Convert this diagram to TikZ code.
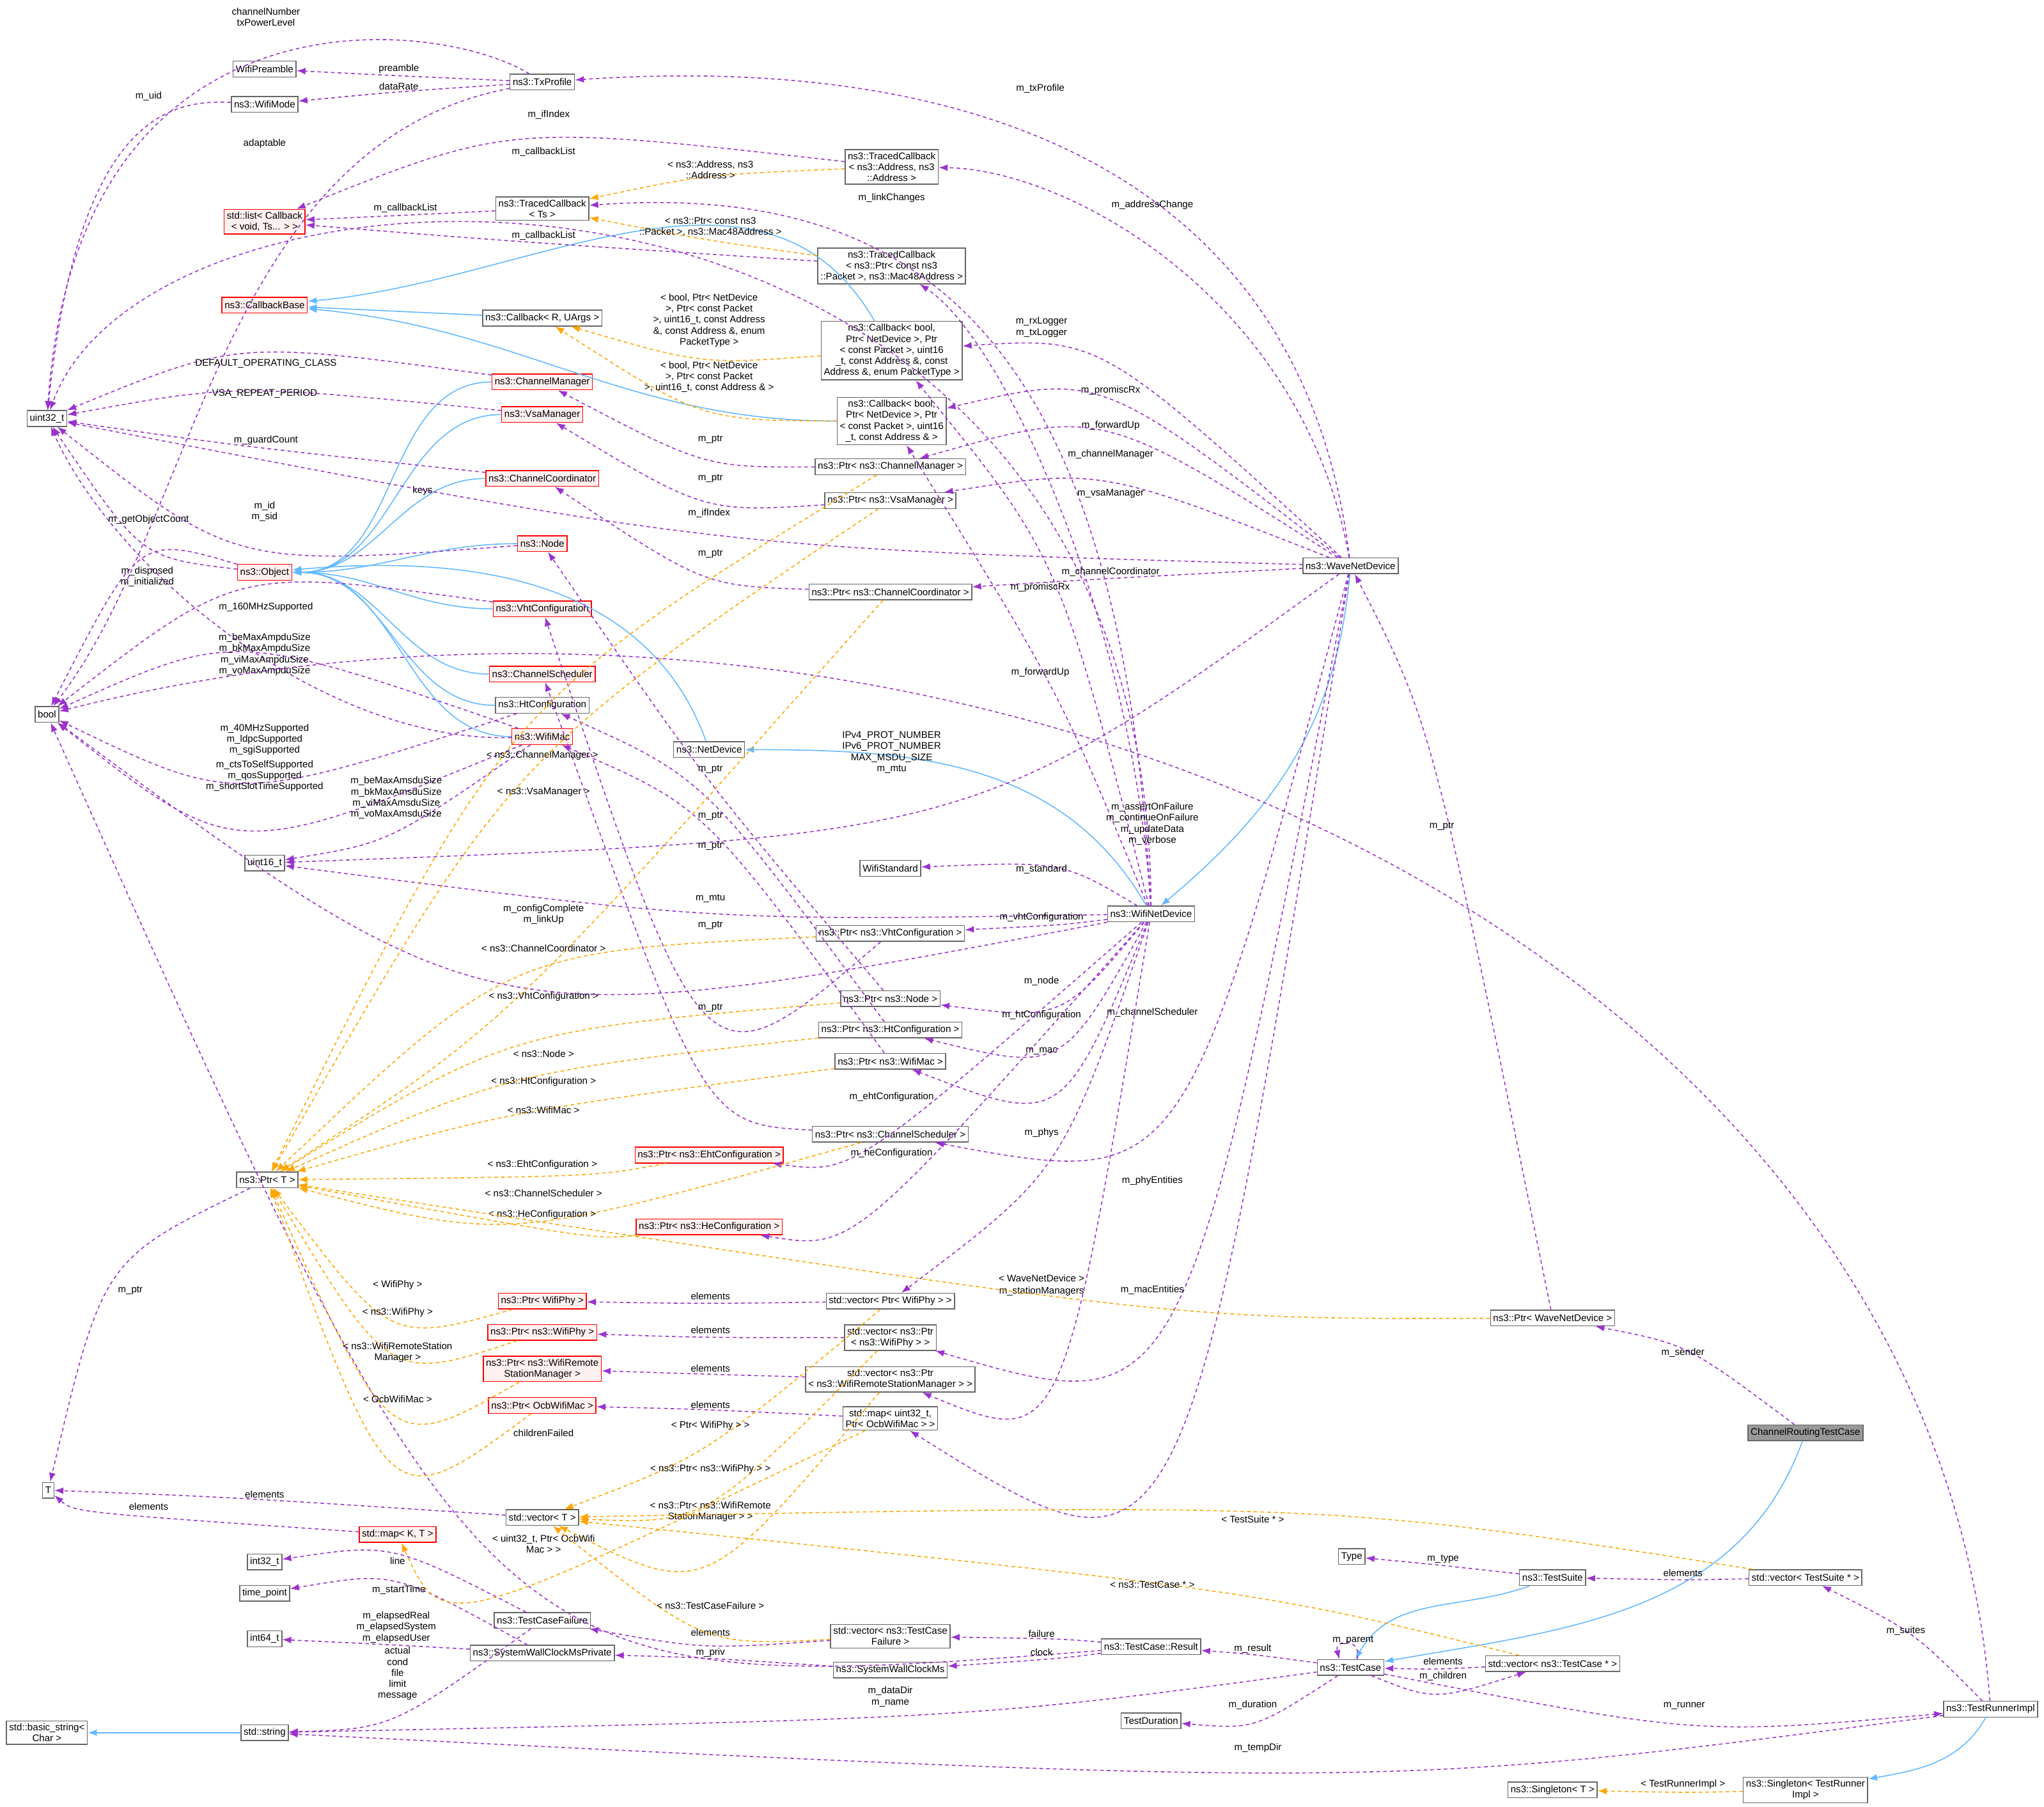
\documentclass[tikz,border=0pt]{standalone}
\usepackage{fontspec}
\setmainfont{Liberation Sans}
\usetikzlibrary{arrows.meta,calc}
\definecolor{memc}{HTML}{9A32CD}
\definecolor{inhc}{HTML}{63B8FF}
\definecolor{tplc}{HTML}{FFA500}
\tikzset{
  box/.style={draw=black!60, fill=white, font=\fontsize{4.3}{4.9}\selectfont, align=center, inner sep=1.2pt, minimum height=7pt, line width=0.4pt},
  redbox/.style={box, draw=red, fill=red!6},
  grbox/.style={box, fill=black!40},
  lbl/.style={font=\fontsize{4.3}{4.9}\selectfont, align=center, inner sep=0.3pt},
  mem/.style={draw=memc, line width=0.45pt, dash pattern=on 1.6pt off 1.4pt, -{Latex[length=4pt,width=3pt]}},
  inh/.style={draw=inhc, line width=0.45pt, -{Latex[length=4pt,width=3pt]}},
  tpl/.style={draw=tplc, line width=0.45pt, dash pattern=on 1.6pt off 1.4pt, -{Latex[length=4pt,width=3pt]}},
}
% curve from #2 to #3 passing just under the label at #4
\newcommand{\mlink}[5]{\draw[#1] (#2) .. controls ($2*(#4)+(0,10)-0.5*(#2)-0.5*(#3)$) .. (#3) node[lbl,anchor=south] at ($(#4)+(0,4)$) {#5};}
% same, with two given control points; label centred at #6
\newcommand{\clink}[7]{\draw[#1] (#2) .. controls (#4) and (#5) .. (#3) node[lbl] at (#6) {#7};}
\begin{document}
\begin{tikzpicture}[x=0.2039mm, y=-0.2039mm]
\useasboundingbox (0,0) rectangle (1568,1386);
% classes
\node[box] (u32) at (36,321) {uint32\_t};
\node[box] (bool) at (36,548) {bool};
\node[box] (u16) at (203,662) {uint16\_t};
\node[box] (T) at (37,1143) {T};
\node[box] (wpre) at (203,53) {WifiPreamble};
\node[box] (wmode) at (203,80) {ns3::WifiMode};
\node[box] (txp) at (416,63) {ns3::TxProfile};
\node[redbox] (slist) at (203,170) {std::list< Callback\\< void, Ts... > >};
\node[box] (tcts) at (416,160) {ns3::TracedCallback\\< Ts >};
\node[box] (tcaddr) at (684,128) {ns3::TracedCallback\\< ns3::Address, ns3\\::Address >};
\node[box] (tcpkt) at (684,204) {ns3::TracedCallback\\< ns3::Ptr< const ns3\\::Packet >, ns3::Mac48Address >};
\node[redbox] (cbb) at (203,234) {ns3::CallbackBase};
\node[box] (cbr) at (416,244) {ns3::Callback< R, UArgs >};
\node[box] (cbpt) at (684,269) {ns3::Callback< bool,\\ Ptr< NetDevice >, Ptr\\< const Packet >, uint16\\\_t, const Address \&, const\\ Address \&, enum PacketType >};
\node[box] (cbad) at (684,323) {ns3::Callback< bool,\\ Ptr< NetDevice >, Ptr\\< const Packet >, uint16\\\_t, const Address \& >};
\node[redbox] (cm) at (416,293) {ns3::ChannelManager};
\node[redbox] (vsa) at (416,318) {ns3::VsaManager};
\node[redbox] (cc) at (416,367) {ns3::ChannelCoordinator};
\node[redbox] (node) at (416,417) {ns3::Node};
\node[redbox] (obj) at (203,439) {ns3::Object};
\node[redbox] (vht) at (416,467) {ns3::VhtConfiguration};
\node[redbox] (cs) at (416,517) {ns3::ChannelScheduler};
\node[box] (htc) at (416,541) {ns3::HtConfiguration};
\node[redbox] (wmac) at (416,565) {ns3::WifiMac};
\node[box] (netdev) at (544,575) {ns3::NetDevice};
\node[box] (pcm) at (683,358) {ns3::Ptr< ns3::ChannelManager >};
\node[box] (pvsa) at (683,384) {ns3::Ptr< ns3::VsaManager >};
\node[box] (pcc) at (683,454) {ns3::Ptr< ns3::ChannelCoordinator >};
\node[box] (wave) at (1036,434) {ns3::WaveNetDevice};
\node[box] (wstd) at (683,666) {WifiStandard};
\node[box] (wifind) at (883,701) {ns3::WifiNetDevice};
\node[box] (pvht) at (683,716) {ns3::Ptr< ns3::VhtConfiguration >};
\node[box] (pnode) at (683,766) {ns3::Ptr< ns3::Node >};
\node[box] (phtc) at (683,790) {ns3::Ptr< ns3::HtConfiguration >};
\node[box] (pwmac) at (683,814) {ns3::Ptr< ns3::WifiMac >};
\node[box] (pcs) at (683,870) {ns3::Ptr< ns3::ChannelScheduler >};
\node[redbox] (peht) at (544,886) {ns3::Ptr< ns3::EhtConfiguration >};
\node[box] (ptrT) at (205,905) {ns3::Ptr< T >};
\node[redbox] (phe) at (544,941) {ns3::Ptr< ns3::HeConfiguration >};
\node[redbox] (pwp) at (416,998) {ns3::Ptr< WifiPhy >};
\node[redbox] (pnwp) at (416,1022) {ns3::Ptr< ns3::WifiPhy >};
\node[redbox] (psm) at (416,1050) {ns3::Ptr< ns3::WifiRemote\\StationManager >};
\node[redbox] (pocb) at (416,1078) {ns3::Ptr< OcbWifiMac >};
\node[box] (vpwp) at (683,998) {std::vector< Ptr< WifiPhy > >};
\node[box] (vpnwp) at (683,1026) {std::vector< ns3::Ptr\\< ns3::WifiPhy > >};
\node[box] (vsm) at (683,1058) {std::vector< ns3::Ptr\\< ns3::WifiRemoteStationManager > >};
\node[box] (mapocb) at (683,1088) {std::map< uint32\_t,\\ Ptr< OcbWifiMac > >};
\node[box] (pwave) at (1191,1011) {ns3::Ptr< WaveNetDevice >};
\node[grbox] (crtc) at (1385,1099) {ChannelRoutingTestCase};
\node[box] (vecT) at (416,1164) {std::vector< T >};
\node[redbox] (mapKT) at (305,1177) {std::map< K, T >};
\node[box] (i32) at (203,1198) {int32\_t};
\node[box] (tp) at (203,1222) {time\_point};
\node[box] (i64) at (203,1257) {int64\_t};
\node[box] (tcf) at (416,1243) {ns3::TestCaseFailure};
\node[box] (swcp) at (416,1268) {ns3::SystemWallClockMsPrivate};
\node[box] (str) at (203,1329) {std::string};
\node[box] (bstr) at (36,1329) {std::basic\_string<\\ Char >};
\node[box] (vtcf) at (683,1255) {std::vector< ns3::TestCase\\Failure >};
\node[box] (swc) at (683,1281) {ns3::SystemWallClockMs};
\node[box] (result) at (883,1263) {ns3::TestCase::Result};
\node[box] (tc) at (1036,1279) {ns3::TestCase};
\node[box] (tdur) at (883,1320) {TestDuration};
\node[box] (type) at (1037,1194) {Type};
\node[box] (tsuite) at (1191,1210) {ns3::TestSuite};
\node[box] (vts) at (1385,1210) {std::vector< TestSuite * >};
\node[box] (vtc) at (1191,1276) {std::vector< ns3::TestCase * >};
\node[box] (trunner) at (1527,1311) {ns3::TestRunnerImpl};
\node[box] (sglT) at (1191,1373) {ns3::Singleton< T >};
\node[box] (sgltr) at (1385,1373) {ns3::Singleton< TestRunner\\Impl >};
% inheritance
\draw[inh] (cbr) -- (cbb);
\draw[inh] (cbpt) to[out=120,in=5] (cbb);
\draw[inh] (cbad) to[out=180,in=-5] (cbb);
\foreach \n in {cm,vsa,node,vht,cs,htc,wmac}
  \draw[inh] (\n) to[out=180,in=0] (obj);
\draw[inh] (cc) to[out=180,in=0] node[lbl,pos=0.3,above=1pt] {keys} (obj);
\draw[inh] (netdev) to[out=110,in=5] (obj);
\draw[inh] (wifind) to[out=120,in=0] (netdev);
\draw[inh] (wave) to[out=-95,in=40] (wifind);
\draw[inh] (crtc) to[out=-110,in=10] (tc);
\draw[inh] (tsuite) to[out=200,in=60] (tc);
\draw[inh] (trunner) to[out=-120,in=10] (sgltr);
\draw[inh] (str) -- (bstr);
% members
\clink{mem}{txp}{u32}{340,15}{60,-20}{204,13}{channelNumber\\txPowerLevel}
\mlink{mem}{txp}{wpre}{306,53}{preamble}
\mlink{mem}{txp}{wmode}{306,66}{dataRate}
\clink{mem}{wmode}{u32}{130,76}{60,90}{114,74}{m\_uid}
\clink{mem}{txp}{bool}{170,110}{150,400}{203,110}{adaptable}
\clink{mem}{wifind}{u32}{880,70}{120,90}{421,88}{m\_ifIndex}
\mlink{mem}{tcaddr}{slist}{417,117}{m\_callbackList}
\mlink{mem}{tcts}{slist}{311,160}{m\_callbackList}
\mlink{mem}{tcpkt}{slist}{417,181}{m\_callbackList}
\clink{mem}{wave}{txp}{1000,140}{760,40}{798,68}{m\_txProfile}
\clink{mem}{wave}{tcaddr}{1000,230}{820,130}{884,157}{m\_addressChange}
\clink{mem}{wifind}{tcts}{860,250}{700,140}{684,152}{m\_linkChanges}
\clink{mem}{wifind}{tcpkt}{870,480}{770,260}{799,251}{m\_rxLogger\\m\_txLogger}
\mlink{mem}{wave}{cbpt}{852,300}{m\_promiscRx}
\mlink{mem}{wave}{cbad}{852,327}{m\_forwardUp}
\mlink{mem}{wave}{pcm}{852,349}{m\_channelManager}
\mlink{mem}{wave}{pvsa}{852,379}{m\_vsaManager}
\mlink{mem}{wave}{pcc}{852,439}{m\_channelCoordinator}
\mlink{mem}{wave}{u32}{544,394}{m\_ifIndex}
\mlink{mem}{wifind}{cbpt}{798,451}{m\_promiscRx}
\mlink{mem}{wifind}{cbad}{798,516}{m\_forwardUp}
\mlink{mem}{pcm}{cm}{545,337}{m\_ptr}
\mlink{mem}{pvsa}{vsa}{545,367}{m\_ptr}
\mlink{mem}{pcc}{cc}{545,425}{m\_ptr}
\mlink{mem}{cm}{u32}{204,279}{DEFAULT\_OPERATING\_CLASS}
\mlink{mem}{vsa}{u32}{203,302}{VSA\_REPEAT\_PERIOD}
\mlink{mem}{cc}{u32}{204,338}{m\_guardCount}
\mlink{mem}{node}{u32}{203,397}{m\_id\\m\_sid}
\mlink{mem}{obj}{u32}{114,399}{m\_getObjectCount}
\draw[mem] (wmac) .. controls (250,570) and (90,440) .. (u32);
\mlink{mem}{obj}{bool}{113,447}{m\_disposed\\m\_initialized}
\mlink{mem}{vht}{bool}{204,466}{m\_160MHzSupported}
\mlink{mem}{wmac}{bool}{203,515}{m\_beMaxAmpduSize\\m\_bkMaxAmpduSize\\m\_viMaxAmpduSize\\m\_voMaxAmpduSize}
\mlink{mem}{htc}{bool}{203,576}{m\_40MHzSupported\\m\_ldpcSupported\\m\_sgiSupported}
\mlink{mem}{wmac}{bool}{203,604}{m\_ctsToSelfSupported\\m\_qosSupported\\m\_shortSlotTimeSupported}
\mlink{mem}{wmac}{u16}{304,625}{m\_beMaxAmsduSize\\m\_bkMaxAmsduSize\\m\_viMaxAmsduSize\\m\_voMaxAmsduSize}
\mlink{mem}{wave}{u16}{684,590}{IPv4\_PROT\_NUMBER\\IPv6\_PROT\_NUMBER\\MAX\_MSDU\_SIZE\\m\_mtu}
\mlink{mem}{wifind}{u16}{545,689}{m\_mtu}
\mlink{mem}{wifind}{bool}{417,706}{m\_configComplete\\m\_linkUp}
\mlink{mem}{pnode}{node}{545,590}{m\_ptr}
\mlink{mem}{phtc}{htc}{545,626}{m\_ptr}
\mlink{mem}{pwmac}{wmac}{545,649}{m\_ptr}
\mlink{mem}{pvht}{vht}{545,710}{m\_ptr}
\mlink{mem}{pcs}{cs}{545,773}{m\_ptr}
\mlink{mem}{wifind}{wstd}{799,667}{m\_standard}
\mlink{mem}{wifind}{pvht}{799,704}{m\_vhtConfiguration}
\mlink{mem}{wifind}{pnode}{799,753}{m\_node}
\mlink{mem}{wifind}{phtc}{799,779}{m\_htConfiguration}
\mlink{mem}{wifind}{pwmac}{799,806}{m\_mac}
\mlink{mem}{wifind}{peht}{684,842}{m\_ehtConfiguration}
\mlink{mem}{wave}{pcs}{884,777}{m\_channelScheduler}
\mlink{mem}{wifind}{phe}{684,885}{m\_heConfiguration}
\mlink{mem}{wifind}{vpwp}{799,869}{m\_phys}
\mlink{mem}{wave}{vpnwp}{884,906}{m\_phyEntities}
\mlink{mem}{wifind}{vsm}{799,991}{m\_stationManagers}
\mlink{mem}{wave}{mapocb}{884,990}{m\_macEntities}
\mlink{mem}{pwave}{wave}{1106,634}{m\_ptr}
\mlink{mem}{crtc}{pwave}{1291,1038}{m\_sender}
\mlink{mem}{vpwp}{pwp}{545,994}{elements}
\mlink{mem}{vpnwp}{pnwp}{545,1020}{elements}
\mlink{mem}{vsm}{psm}{545,1049}{elements}
\mlink{mem}{mapocb}{pocb}{545,1077}{elements}
\mlink{mem}{ptrT}{T}{100,990}{m\_ptr}
\mlink{mem}{vecT}{T}{203,1146}{elements}
\mlink{mem}{mapKT}{T}{114,1155}{elements}
\mlink{mem}{result}{bool}{417,1099}{childrenFailed}
\mlink{mem}{tcf}{i32}{305,1197}{line}
\mlink{mem}{swcp}{tp}{306,1220}{m\_startTime}
\mlink{mem}{swcp}{i64}{304,1257}{m\_elapsedReal\\m\_elapsedSystem\\m\_elapsedUser}
\mlink{mem}{tcf}{str}{305,1301}{actual\\cond\\file\\limit\\message}
\mlink{mem}{vtcf}{tcf}{545,1252}{elements}
\mlink{mem}{swc}{swcp}{545,1268}{m\_priv}
\mlink{mem}{result}{vtcf}{799,1253}{failure}
\mlink{mem}{result}{swc}{799,1267}{clock}
\mlink{mem}{tc}{str}{683,1306}{m\_dataDir\\m\_name}
\mlink{mem}{tc}{result}{961,1265}{m\_result}
\mlink{mem}{vtc}{tc}{1107,1274}{elements}
\mlink{mem}{tc}{vtc}{1107,1286}{m\_children}
\mlink{mem}{tsuite}{type}{1107,1196}{m\_type}
\mlink{mem}{vts}{tsuite}{1291,1206}{elements}
\mlink{mem}{tc}{tdur}{961,1308}{m\_duration}
\mlink{mem}{tc}{trunner}{1292,1308}{m\_runner}
\mlink{mem}{trunner}{vts}{1462,1251}{m\_suites}
\mlink{mem}{trunner}{str}{965,1341}{m\_tempDir}
\clink{mem}{trunner}{bool}{1480,700}{700,380}{884,632}{m\_assertOnFailure\\m\_continueOnFailure\\m\_updateData\\m\_verbose}
\draw[mem] ([xshift=3pt]tc.north) .. controls +(4,-16) and +(-4,-16) .. ([xshift=-5pt]tc.north)
  node[lbl,anchor=south] at (1038,1262) {m\_parent};
% templates
\mlink{tpl}{tcaddr}{tcts}{545,134}{< ns3::Address, ns3\\::Address >}
\mlink{tpl}{tcpkt}{tcts}{545,178}{< ns3::Ptr< const ns3\\::Packet >, ns3::Mac48Address >}
\mlink{tpl}{cbpt}{cbr}{544,263}{< bool, Ptr< NetDevice\\>, Ptr< const Packet\\>, uint16\_t, const Address\\\&, const Address \&, enum\\ PacketType >}
\mlink{tpl}{cbad}{cbr}{544,298}{< bool, Ptr< NetDevice\\>, Ptr< const Packet\\>, uint16\_t, const Address \& >}
\mlink{tpl}{pcm}{ptrT}{416,580}{< ns3::ChannelManager >}
\mlink{tpl}{pvsa}{ptrT}{417,608}{< ns3::VsaManager >}
\mlink{tpl}{pcc}{ptrT}{417,727}{< ns3::ChannelCoordinator >}
\mlink{tpl}{pvht}{ptrT}{417,765}{< ns3::VhtConfiguration >}
\mlink{tpl}{pnode}{ptrT}{417,808}{< ns3::Node >}
\mlink{tpl}{phtc}{ptrT}{417,830}{< ns3::HtConfiguration >}
\mlink{tpl}{pwmac}{ptrT}{417,851}{< ns3::WifiMac >}
\mlink{tpl}{peht}{ptrT}{416,894}{< ns3::EhtConfiguration >}
\mlink{tpl}{pcs}{ptrT}{417,915}{< ns3::ChannelScheduler >}
\mlink{tpl}{phe}{ptrT}{416,932}{< ns3::HeConfiguration >}
\mlink{tpl}{pwave}{ptrT}{799,980}{< WaveNetDevice >}
\mlink{tpl}{pwp}{ptrT}{305,986}{< WifiPhy >}
\mlink{tpl}{pnwp}{ptrT}{305,1007}{< ns3::WifiPhy >}
\mlink{tpl}{psm}{ptrT}{305,1042}{< ns3::WifiRemoteStation\\Manager >}
\mlink{tpl}{pocb}{ptrT}{305,1073}{< OcbWifiMac >}
\mlink{tpl}{vpwp}{vecT}{545,1094}{< Ptr< WifiPhy > >}
\mlink{tpl}{vpnwp}{vecT}{545,1127}{< ns3::Ptr< ns3::WifiPhy > >}
\mlink{tpl}{vsm}{vecT}{545,1164}{< ns3::Ptr< ns3::WifiRemote\\StationManager > >}
\mlink{tpl}{mapocb}{mapKT}{417,1188}{< uint32\_t, Ptr< OcbWifi\\Mac > >}
\mlink{tpl}{vtcf}{vecT}{545,1231}{< ns3::TestCaseFailure >}
\mlink{tpl}{vts}{vecT}{961,1165}{< TestSuite * >}
\mlink{tpl}{vtc}{vecT}{884,1215}{< ns3::TestCase * >}
\mlink{tpl}{sgltr}{sglT}{1291,1369}{< TestRunnerImpl >}
\end{tikzpicture}
\end{document}
